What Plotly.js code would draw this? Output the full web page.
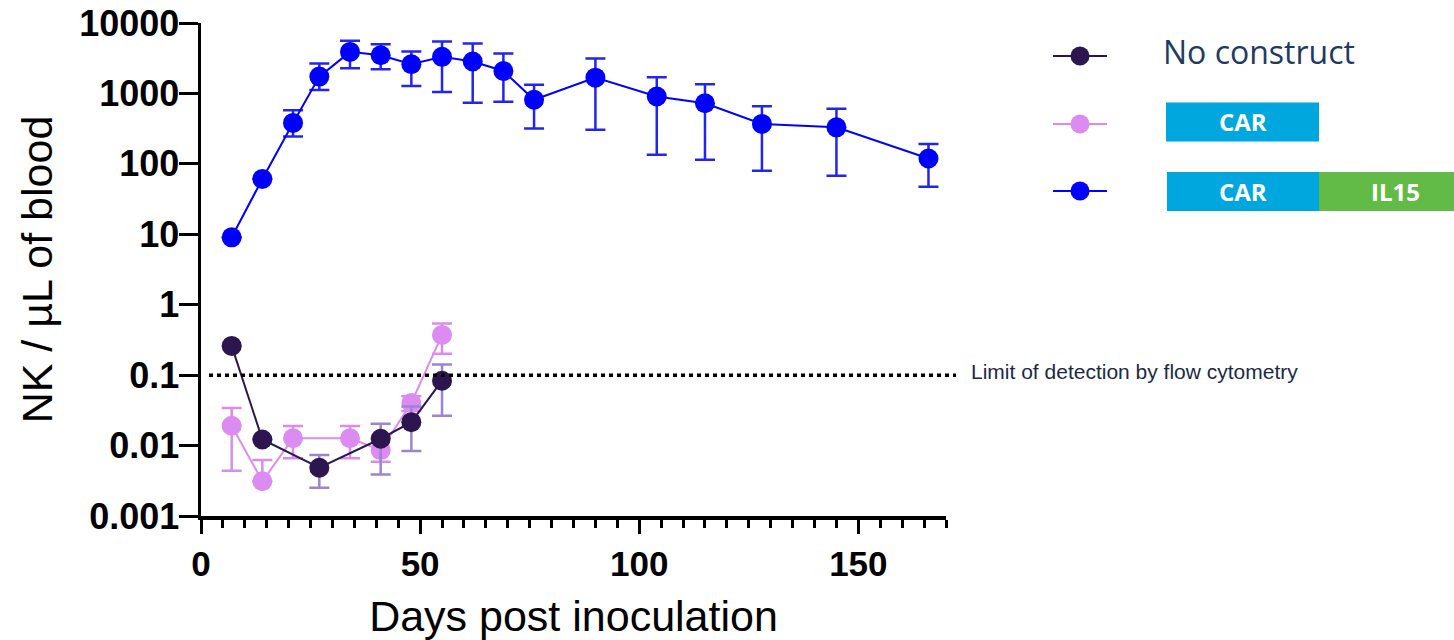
<!DOCTYPE html>
<html>
<head>
<meta charset="utf-8">
<script src="https://cdn.plot.ly/plotly-3.0.1.min.js"></script>
<style>
  html, body { margin: 0; padding: 0; background: #ffffff; }
  #chart { width: 1454px; height: 640px; }
</style>
</head>
<body>
<div id="chart"></div>
<script>
// ---------------- data ----------------
const seriesNames = ['No construct', 'CAR', 'CAR-IL15'];

const noDays = [7, 14, 27, 41, 48, 55];
const noMean = [0.26, 0.0122, 0.00485, 0.0125, 0.0215, 0.0834];
const noHigh = [0.26, 0.0122, 0.00736, 0.0204, 0.036, 0.142];
const noLow  = [0.26, 0.0122, 0.00251, 0.00389, 0.0084, 0.0266];

const carDays = [7, 14, 21, 34, 41, 48, 55];
const carMean = [0.0191, 0.00311, 0.0127, 0.0127, 0.00863, 0.0402, 0.373];
const carHigh = [0.0341, 0.00625, 0.0189, 0.0189, 0.0127, 0.0501, 0.541];
const carLow  = [0.0044, 0.00311, 0.00659, 0.00659, 0.0059, 0.0309, 0.201];

const ilDays = [7, 14, 21, 27, 34, 41, 48, 55, 62, 69, 76, 90, 104, 115, 128, 145, 166];
const ilMean = [9.06, 61.1, 381, 1733, 3890, 3490, 2595, 3305, 2838, 2084, 813, 1675, 906, 726, 369, 330, 119];
const ilHigh = [9.06, 61.1, 577, 2653, 5585, 5012, 3945, 5480, 5130, 3690, 1330, 3133, 1693, 1345, 659, 604, 191];
const ilLow  = [9.06, 61.1, 245, 1115, 2276, 2202, 1271, 1045, 737, 761, 319, 306, 134.5, 114, 80, 68, 47.4];

const yTickVals = [0.001, 0.01, 0.1, 1, 10, 100, 1000, 10000];
const yTickText = ['0.001', '0.01', '0.1', '1', '10', '100', '1000', '10000'];
const xTickVals = [0, 50, 100, 150];

const limitOfDetection = 0.1;
const lodLabel = 'Limit of detection by flow cytometry';
const xTitle = 'Days post inoculation';
const yTitle = 'NK / µL of blood';

// ---------------- styles ----------------
const colNo = '#2d1650', colNoErr = '#9b84d6';
const colCar = '#dc8cf0', colCarErr = '#d98cee';
const colIl = '#0000ff', colIlErr = '#2424f2';
const boxBlue = '#00a6de', boxGreen = '#62bb46';

const W = 1454, H = 640;
const M = {l: 201, r: 508, t: 23, b: 124};
const plotW = W - M.l - M.r, plotH = H - M.t - M.b;
const px2x = px => (px - M.l) / plotW;
const py2y = py => (H - M.b - py) / plotH;
const yRange = [-3, 4];

function errTrace(x, mean, hi, lo, name, col, errCol) {
  return {
    type: 'scatter', mode: 'lines+markers', name: name, x: x, y: mean,
    line: {color: col, width: 2},
    marker: {color: col, size: 20},
    error_y: {
      type: 'data', symmetric: false,
      array: hi.map((v, i) => v - mean[i]),
      arrayminus: lo.map((v, i) => mean[i] - v),
      color: errCol, thickness: 2.5, width: 10
    },
    cliponaxis: false,
    showlegend: false
  };
}

const traces = [
  errTrace(ilDays, ilMean, ilHigh, ilLow, seriesNames[2], colIl, colIlErr),
  errTrace(carDays, carMean, carHigh, carLow, seriesNames[1], colCar, colCarErr),
  errTrace(noDays, noMean, noHigh, noLow, seriesNames[0], colNo, colNoErr)
];

const font = "Arial, 'Liberation Sans', sans-serif";
const lodY = (Math.log10(limitOfDetection) - yRange[0]) / (yRange[1] - yRange[0]);

// legend geometry
const legY = [56, 124, 191];
const legCols = [colNo, colCar, colIl];
const shapes = [];
legY.forEach((py, i) => {
  shapes.push({type: 'line', xref: 'paper', yref: 'paper',
    x0: px2x(1053), x1: px2x(1107), y0: py2y(py), y1: py2y(py),
    line: {color: legCols[i], width: 2}});
  shapes.push({type: 'circle', xref: 'paper', yref: 'paper',
    xsizemode: 'pixel', ysizemode: 'pixel',
    xanchor: px2x(1080), yanchor: py2y(py),
    x0: -9.5, x1: 9.5, y0: -9.5, y1: 9.5,
    fillcolor: legCols[i], line: {width: 0}});
});
// CAR boxes
shapes.push({type: 'rect', xref: 'paper', yref: 'paper',
  x0: px2x(1166), x1: px2x(1319), y0: py2y(141.5), y1: py2y(102.5),
  fillcolor: boxBlue, line: {width: 0}});
shapes.push({type: 'rect', xref: 'paper', yref: 'paper',
  x0: px2x(1167), x1: px2x(1319), y0: py2y(211), y1: py2y(172),
  fillcolor: boxBlue, line: {width: 0}});
shapes.push({type: 'rect', xref: 'paper', yref: 'paper',
  x0: px2x(1319), x1: px2x(1460), y0: py2y(211), y1: py2y(172),
  fillcolor: boxGreen, line: {width: 0}});
// limit of detection line
shapes.push({type: 'line', xref: 'paper', yref: 'paper',
  x0: px2x(209), x1: px2x(956), y0: lodY, y1: lodY,
  line: {color: '#000000', width: 3.5, dash: '4px,4px'}});

const annotations = [
  {xref: 'paper', yref: 'paper', x: px2x(1161), y: py2y(51), xanchor: 'left', yanchor: 'middle',
   text: seriesNames[0], showarrow: false, font: {family: "'Open Sans', sans-serif", size: 32, color: '#1f3a64'}},
  {xref: 'paper', yref: 'paper', x: px2x(1242.5), y: py2y(122), xanchor: 'center', yanchor: 'middle',
   text: 'CAR', showarrow: false, font: {family: "'Open Sans', sans-serif", size: 24, weight: 'bold', color: '#ffffff'}},
  {xref: 'paper', yref: 'paper', x: px2x(1243), y: py2y(191.5), xanchor: 'center', yanchor: 'middle',
   text: 'CAR', showarrow: false, font: {family: "'Open Sans', sans-serif", size: 24, weight: 'bold', color: '#ffffff'}},
  {xref: 'paper', yref: 'paper', x: px2x(1395), y: py2y(191.5), xanchor: 'center', yanchor: 'middle',
   text: 'IL15', showarrow: false, font: {family: "'Open Sans', sans-serif", size: 24, weight: 'bold', color: '#ffffff'}},
  {xref: 'paper', yref: 'paper', x: px2x(969), y: lodY, xanchor: 'left', yanchor: 'middle', yshift: 4,
   text: lodLabel, showarrow: false, font: {family: font, size: 21, color: '#1a2a44'}}
];

const layout = {
  width: W, height: H,
  margin: M,
  paper_bgcolor: '#ffffff', plot_bgcolor: '#ffffff',
  showlegend: false,
  font: {family: font, color: '#000000'},
  xaxis: {
    range: [0, 170], tickmode: 'linear', tick0: 0, dtick: 50,
    ticks: 'outside', ticklen: 14, tickwidth: 3, tickcolor: '#000',
    minor: {tickmode: 'linear', tick0: 0, dtick: 5, ticks: 'outside', ticklen: 8, tickwidth: 3, tickcolor: '#000', showgrid: false},
    showline: true, linewidth: 3.5, linecolor: '#000',
    showgrid: false, zeroline: false,
    tickfont: {family: font, size: 35, weight: 'bold', color: '#000'},
    title: {text: xTitle, font: {family: font, size: 43, color: '#000'}, standoff: 24},
    automargin: false
  },
  yaxis: {
    type: 'log', range: yRange,
    tickmode: 'array', tickvals: yTickVals, ticktext: yTickText,
    ticks: 'outside', ticklen: 19, tickwidth: 3, tickcolor: '#000',
    ticklabelstandoff: -8,
    showline: true, linewidth: 3.5, linecolor: '#000',
    showgrid: false, zeroline: false,
    tickfont: {family: font, size: 36, weight: 'bold', color: '#000'},
    title: {text: yTitle, font: {family: font, size: 43, color: '#000'}, standoff: 14},
    automargin: false
  },
  shapes: shapes,
  annotations: annotations
};

Plotly.newPlot('chart', traces, layout, {displayModeBar: false, staticPlot: true});
</script>
</body>
</html>
